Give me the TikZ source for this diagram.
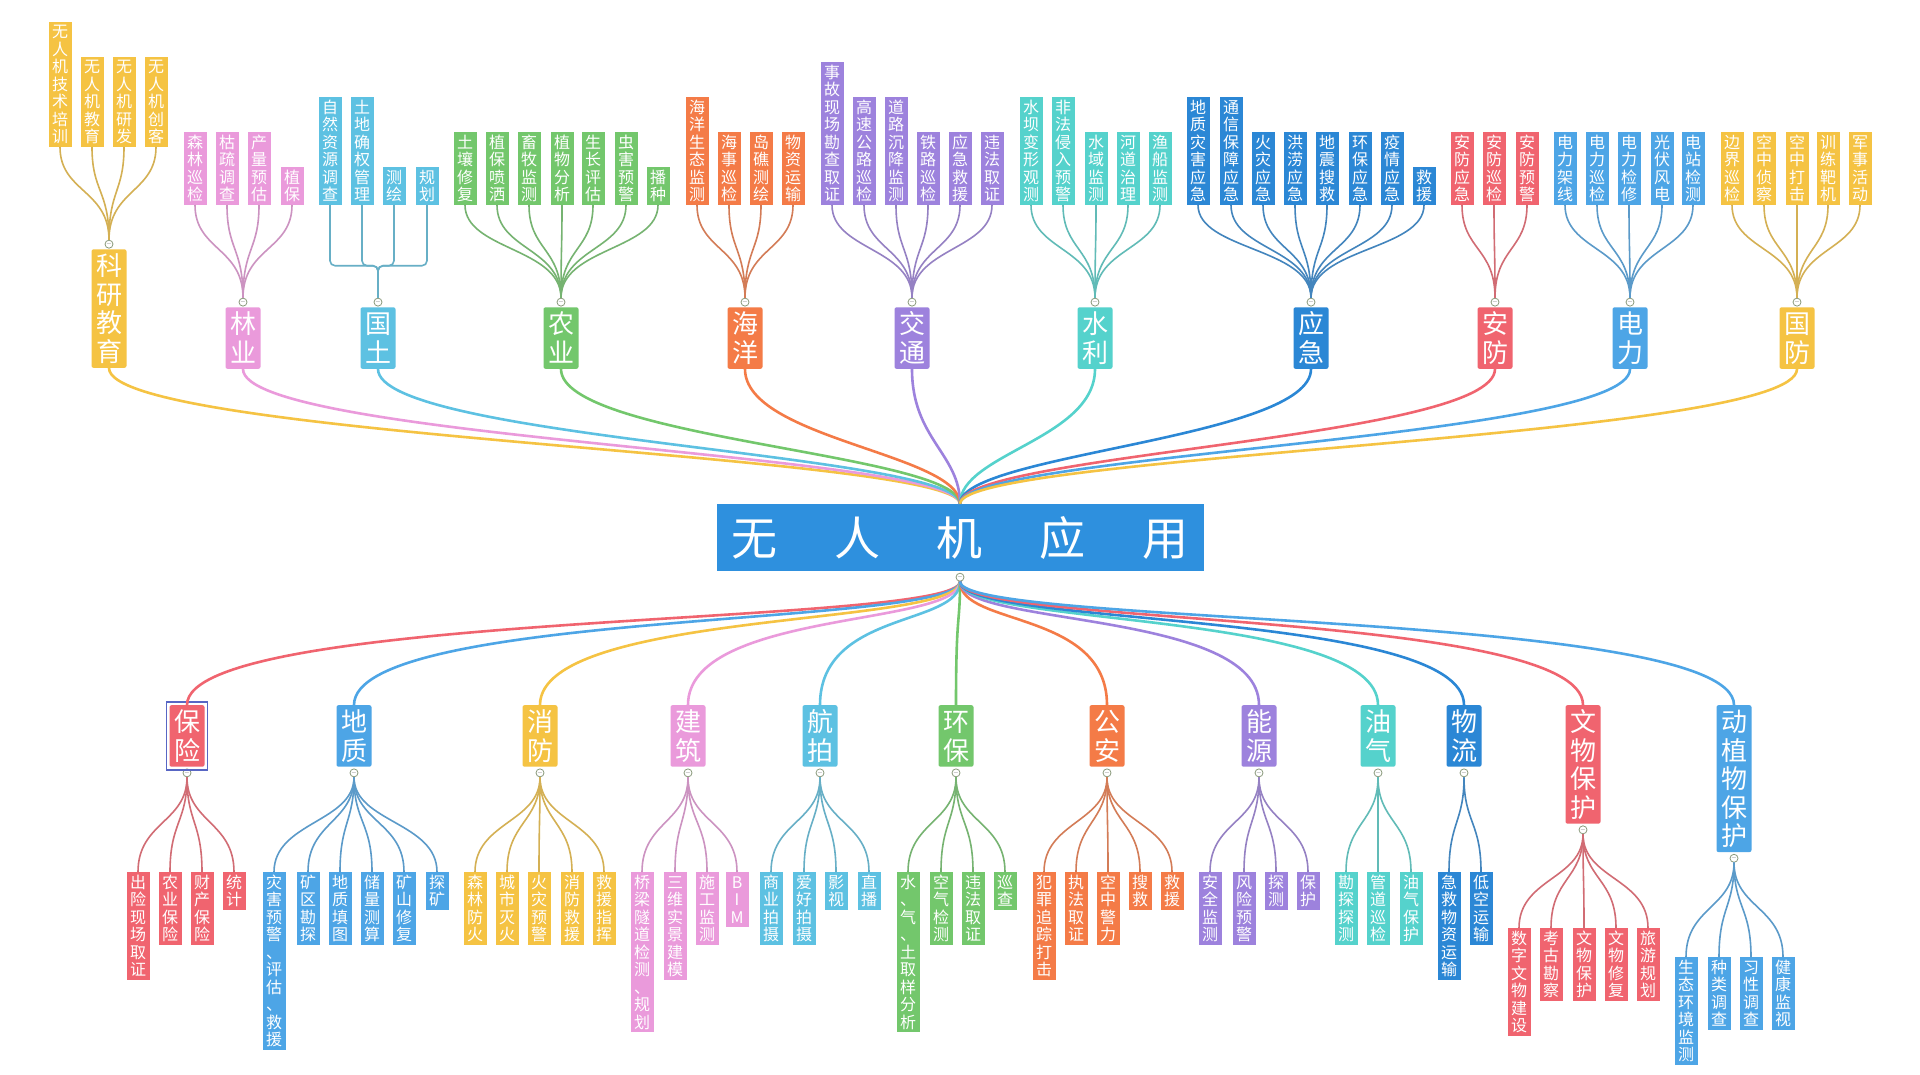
\documentclass[tikz,border=0pt]{standalone}
\usepackage{fontspec}
\usepackage{tikz}
\newfontfamily\hei{Noto Sans CJK SC}
\definecolor{cGold}{HTML}{F5C343}
\definecolor{cPink}{HTML}{EA9ADB}
\definecolor{cSky}{HTML}{5DC1E2}
\definecolor{cGreen}{HTML}{73C76C}
\definecolor{cOrange}{HTML}{F47B47}
\definecolor{cViolet}{HTML}{9D82DD}
\definecolor{cTeal}{HTML}{55D2CC}
\definecolor{cBlue}{HTML}{2B87D5}
\definecolor{cRed}{HTML}{F0646F}
\definecolor{cAzure}{HTML}{4DA5E6}
\definecolor{cHub}{HTML}{2E90DE}
\definecolor{cSel}{HTML}{5866C4}
\definecolor{cFold}{HTML}{8A9A7C}
\newcommand\leaffont{\hei\fontsize{16pt}{17.5pt}\selectfont}
\newcommand\limbfont{\hei\fontsize{26pt}{28.5pt}\selectfont}
\newcommand\hubfont{\hei\fontsize{46pt}{50pt}\selectfont}
\ExplSyntaxOn
\cs_new_protected:Npn \uav_column:n #1
  {
    \vbox:n
      {
        \skip_set:Nn \baselineskip { 1.095em }
        \dim_set:Nn \lineskiplimit { -100pt }
        \tl_map_inline:nn {#1}
          { \hbox_to_wd:nn { 1em } { \hss \vrule~height~.88em~depth~.12em~width~0pt ##1 \hss } }
      }
  }
\cs_generate_variant:Nn \uav_column:n { o }
\NewDocumentCommand \vt { m } { \uav_column:o {#1} }
\ExplSyntaxOff

\begin{document}
\begin{tikzpicture}[x=1pt,y=-1pt,
 leaf/.style={rectangle,fill=#1,text=white,inner xsep=3.5pt,inner ysep=2pt,font=\leaffont},
 branch/.style={rectangle,rounded corners=2pt,fill=#1,text=white,inner xsep=4.5pt,
 inner ysep=3.5pt,font=\limbfont},
 hubbox/.style={rectangle,fill=cHub,text=white,inner sep=0pt,minimum width=487pt,
 minimum height=67pt,font=\hubfont},
 fold/.style={circle,draw=cFold,fill=white,line width=0.8pt,inner sep=0pt,minimum size=8pt,
 text=black!60,font=\fontsize{6pt}{6pt}\selectfont},
 twig/.style={draw=#1!72!gray,line width=1.6pt,
 to path={.. controls +(0,45) and +(0,-50) .. (\tikztotarget)}},
 limb/.style={draw=#1,line width=2.6pt},
 selbox/.style={draw=cSel,line width=1.4pt}]
\fill[white] (0,0) rectangle (1920,1074);
\useasboundingbox (0,0) rectangle (1920,1074);

\node[hubbox] (ct) at (960,537.5) {无\hskip57pt 人\hskip57pt 机\hskip57pt 应\hskip57pt 用};
\node[fold] (ctf) at ([yshift=-6pt]ct.south) {$-$};

\node[branch=cGold,anchor=south] (ky) at (109,368) {\vt{科研教育}};
\node[fold] (kyf) at ([yshift=5pt]ky.north) {$-$};
\foreach \x/\w [count=\i] in {60/无人机技术培训,92/无人机教育,124/无人机研发,156/无人机创客}
 {\node[leaf=cGold,anchor=south] (ky\i) at (\x,147) {\vt{\w}};
  \draw[twig=cGold] (ky\i.south) to (kyf.north);}

\node[branch=cPink,anchor=south] (ly) at (243,369) {\vt{林业}};
\node[fold] (lyf) at ([yshift=5pt]ly.north) {$-$};
\foreach \x/\w [count=\i] in {195/森林巡检,227/枯疏调查,259/产量预估,292/植保}
 {\node[leaf=cPink,anchor=south] (ly\i) at (\x,205) {\vt{\w}};
  \draw[twig=cPink] (ly\i.south) to (lyf.north);}

\node[branch=cSky,anchor=south] (gt) at (378,369) {\vt{国土}};
\node[fold] (gtf) at ([yshift=5pt]gt.north) {$-$};
\coordinate (gtj) at ([yshift=32pt]gtf.north);
\foreach \x/\w [count=\i] in {330/自然资源调查,362/土地确权管理,394/测绘,427/规划}
 {\node[leaf=cSky,anchor=south] (gt\i) at (\x,205) {\vt{\w}};
  \draw[twig=cSky,rounded corners=5pt] (gt\i.south) |- (gtj) -- (gtf.north);}

\node[branch=cGreen,anchor=south] (ny) at (561,369) {\vt{农业}};
\node[fold] (nyf) at ([yshift=5pt]ny.north) {$-$};
\foreach \x/\w [count=\i] in {465/土壤修复,497/植保喷洒,529/畜牧监测,562/植物分析,593/生长评估,
 626/虫害预警,658/播种}
 {\node[leaf=cGreen,anchor=south] (ny\i) at (\x,205) {\vt{\w}};
  \draw[twig=cGreen] (ny\i.south) to (nyf.north);}

\node[branch=cOrange,anchor=south] (hy) at (745,369) {\vt{海洋}};
\node[fold] (hyf) at ([yshift=5pt]hy.north) {$-$};
\foreach \x/\w [count=\i] in {697/海洋生态监测,729/海事巡检,761/岛礁测绘,793/物资运输}
 {\node[leaf=cOrange,anchor=south] (hy\i) at (\x,205) {\vt{\w}};
  \draw[twig=cOrange] (hy\i.south) to (hyf.north);}

\node[branch=cViolet,anchor=south] (jt) at (912,369) {\vt{交通}};
\node[fold] (jtf) at ([yshift=5pt]jt.north) {$-$};
\foreach \x/\w [count=\i] in {832/事故现场勘查取证,864/高速公路巡检,896/道路沉降监测,928/铁路巡检,
 960/应急救援,992/违法取证}
 {\node[leaf=cViolet,anchor=south] (jt\i) at (\x,205) {\vt{\w}};
  \draw[twig=cViolet] (jt\i.south) to (jtf.north);}

\node[branch=cTeal,anchor=south] (sl) at (1095,369) {\vt{水利}};
\node[fold] (slf) at ([yshift=5pt]sl.north) {$-$};
\foreach \x/\w [count=\i] in {1031/水坝变形观测,1063/非法侵入预警,1096/水域监测,1128/河道治理,
 1160/渔船监测}
 {\node[leaf=cTeal,anchor=south] (sl\i) at (\x,205) {\vt{\w}};
  \draw[twig=cTeal] (sl\i.south) to (slf.north);}

\node[branch=cBlue,anchor=south] (yj) at (1311,369) {\vt{应急}};
\node[fold] (yjf) at ([yshift=5pt]yj.north) {$-$};
\foreach \x/\w [count=\i] in {1198/地质灾害应急,1231/通信保障应急,1263/火灾应急,1295/洪涝应急,
 1327/地震搜救,1360/环保应急,1392/疫情应急,1424/救援}
 {\node[leaf=cBlue,anchor=south] (yj\i) at (\x,205) {\vt{\w}};
  \draw[twig=cBlue] (yj\i.south) to (yjf.north);}

\node[branch=cRed,anchor=south] (af) at (1495,369) {\vt{安防}};
\node[fold] (aff) at ([yshift=5pt]af.north) {$-$};
\foreach \x/\w [count=\i] in {1462/安防应急,1494/安防巡检,1527/安防预警}
 {\node[leaf=cRed,anchor=south] (af\i) at (\x,205) {\vt{\w}};
  \draw[twig=cRed] (af\i.south) to (aff.north);}

\node[branch=cAzure,anchor=south] (dl) at (1630,369) {\vt{电力}};
\node[fold] (dlf) at ([yshift=5pt]dl.north) {$-$};
\foreach \x/\w [count=\i] in {1565/电力架线,1597/电力巡检,1629/电力检修,1662/光伏风电,1693/电站检测}
 {\node[leaf=cAzure,anchor=south] (dl\i) at (\x,205) {\vt{\w}};
  \draw[twig=cAzure] (dl\i.south) to (dlf.north);}

\node[branch=cGold,anchor=south] (gf) at (1797,369) {\vt{国防}};
\node[fold] (gff) at ([yshift=5pt]gf.north) {$-$};
\foreach \x/\w [count=\i] in {1732/边界巡检,1764/空中侦察,1797/空中打击,1828/训练靶机,1860/军事活动}
 {\node[leaf=cGold,anchor=south] (gf\i) at (\x,205) {\vt{\w}};
  \draw[twig=cGold] (gf\i.south) to (gff.north);}

\node[branch=cRed,anchor=north] (bx) at (187,705) {\vt{保险}};
\node[fold] (bxf) at ([yshift=-6pt]bx.south) {$-$};
\draw[selbox] ([shift={(-3pt,-3pt)}]bx.south west) rectangle ([shift={(3pt,3pt)}]bx.north east);
\foreach \x/\w [count=\i] in {138/出险现场取证,170/农业保险,202/财产保险,234/统计}
 {\node[leaf=cRed,anchor=north] (bx\i) at (\x,872) {\vt{\w}};
  \draw[twig=cRed] (bxf.south) to (bx\i.north);}

\node[branch=cAzure,anchor=north] (dz) at (354,705) {\vt{地质}};
\node[fold] (dzf) at ([yshift=-6pt]dz.south) {$-$};
\foreach \x/\w [count=\i] in {274/灾害预警、评估、救援,308/矿区勘探,340/地质填图,372/储量测算,
 404/矿山修复,437/探矿}
 {\node[leaf=cAzure,anchor=north] (dz\i) at (\x,872) {\vt{\w}};
  \draw[twig=cAzure] (dzf.south) to (dz\i.north);}

\node[branch=cGold,anchor=north] (xf) at (540,705) {\vt{消防}};
\node[fold] (xff) at ([yshift=-6pt]xf.south) {$-$};
\foreach \x/\w [count=\i] in {475/森林防火,507/城市灭火,539/火灾预警,572/消防救援,604/救援指挥}
 {\node[leaf=cGold,anchor=north] (xf\i) at (\x,872) {\vt{\w}};
  \draw[twig=cGold] (xff.south) to (xf\i.north);}

\node[branch=cPink,anchor=north] (jz) at (688,705) {\vt{建筑}};
\node[fold] (jzf) at ([yshift=-6pt]jz.south) {$-$};
\foreach \x/\w [count=\i] in {642/桥梁隧道检测、规划,675/三维实景建模,707/施工监测,737/BIM}
 {\node[leaf=cPink,anchor=north] (jz\i) at (\x,872) {\vt{\w}};
  \draw[twig=cPink] (jzf.south) to (jz\i.north);}

\node[branch=cSky,anchor=north] (hp) at (820,705) {\vt{航拍}};
\node[fold] (hpf) at ([yshift=-6pt]hp.south) {$-$};
\foreach \x/\w [count=\i] in {771/商业拍摄,804/爱好拍摄,836/影视,869/直播}
 {\node[leaf=cSky,anchor=north] (hp\i) at (\x,872) {\vt{\w}};
  \draw[twig=cSky] (hpf.south) to (hp\i.north);}

\node[branch=cGreen,anchor=north] (hb) at (956,705) {\vt{环保}};
\node[fold] (hbf) at ([yshift=-6pt]hb.south) {$-$};
\foreach \x/\w [count=\i] in {908/水、气、土取样分析,941/空气检测,973/违法取证,1005/巡查}
 {\node[leaf=cGreen,anchor=north] (hb\i) at (\x,872) {\vt{\w}};
  \draw[twig=cGreen] (hbf.south) to (hb\i.north);}

\node[branch=cOrange,anchor=north] (ga) at (1107,705) {\vt{公安}};
\node[fold] (gaf) at ([yshift=-6pt]ga.south) {$-$};
\foreach \x/\w [count=\i] in {1044/犯罪追踪打击,1076/执法取证,1108/空中警力,1140/搜救,1172/救援}
 {\node[leaf=cOrange,anchor=north] (ga\i) at (\x,872) {\vt{\w}};
  \draw[twig=cOrange] (gaf.south) to (ga\i.north);}

\node[branch=cViolet,anchor=north] (ne) at (1259,705) {\vt{能源}};
\node[fold] (nef) at ([yshift=-6pt]ne.south) {$-$};
\foreach \x/\w [count=\i] in {1210/安全监测,1244/风险预警,1276/探测,1308/保护}
 {\node[leaf=cViolet,anchor=north] (ne\i) at (\x,872) {\vt{\w}};
  \draw[twig=cViolet] (nef.south) to (ne\i.north);}

\node[branch=cTeal,anchor=north] (yq) at (1378,705) {\vt{油气}};
\node[fold] (yqf) at ([yshift=-6pt]yq.south) {$-$};
\foreach \x/\w [count=\i] in {1346/勘探探测,1378/管道巡检,1411/油气保护}
 {\node[leaf=cTeal,anchor=north] (yq\i) at (\x,872) {\vt{\w}};
  \draw[twig=cTeal] (yqf.south) to (yq\i.north);}

\node[branch=cBlue,anchor=north] (wl) at (1464,705) {\vt{物流}};
\node[fold] (wlf) at ([yshift=-6pt]wl.south) {$-$};
\foreach \x/\w [count=\i] in {1449/急救物资运输,1481/低空运输}
 {\node[leaf=cBlue,anchor=north] (wl\i) at (\x,872) {\vt{\w}};
  \draw[twig=cBlue] (wlf.south) to (wl\i.north);}

\node[branch=cRed,anchor=north] (ww) at (1583,705) {\vt{文物保护}};
\node[fold] (wwf) at ([yshift=-6pt]ww.south) {$-$};
\foreach \x/\w [count=\i] in {1519/数字文物建设,1551/考古勘察,1584/文物保护,1616/文物修复,1648/旅游规划}
 {\node[leaf=cRed,anchor=north] (ww\i) at (\x,928) {\vt{\w}};
  \draw[twig=cRed] (wwf.south) to (ww\i.north);}

\node[branch=cAzure,anchor=north] (dw) at (1734,705) {\vt{动植物保护}};
\node[fold] (dwf) at ([yshift=-6pt]dw.south) {$-$};
\foreach \x/\w [count=\i] in {1686/生态环境监测,1719/种类调查,1751/习性调查,1783/健康监视}
 {\node[leaf=cAzure,anchor=north] (dw\i) at (\x,957) {\vt{\w}};
  \draw[twig=cAzure] (dwf.south) to (dw\i.north);}

\foreach \b/\c in {ky/cGold,ly/cPink,gt/cSky,ny/cGreen,hy/cOrange,jt/cViolet,sl/cTeal,
 yj/cBlue,af/cRed,dl/cAzure,gf/cGold}
 {\draw[limb=\c] (\b.south) .. controls +(0,70) and +(0,-50) .. (ct.north);}
\foreach \b/\c in {bx/cRed,dz/cAzure,xf/cGold,jz/cPink,hp/cSky,hb/cGreen,ga/cOrange,
 ne/cViolet,yq/cTeal,wl/cBlue,ww/cRed,dw/cAzure}
 {\draw[limb=\c] (ctf.south) .. controls +(0,45) and +(0,-95) .. (\b.north);}
\end{tikzpicture}
\end{document}
